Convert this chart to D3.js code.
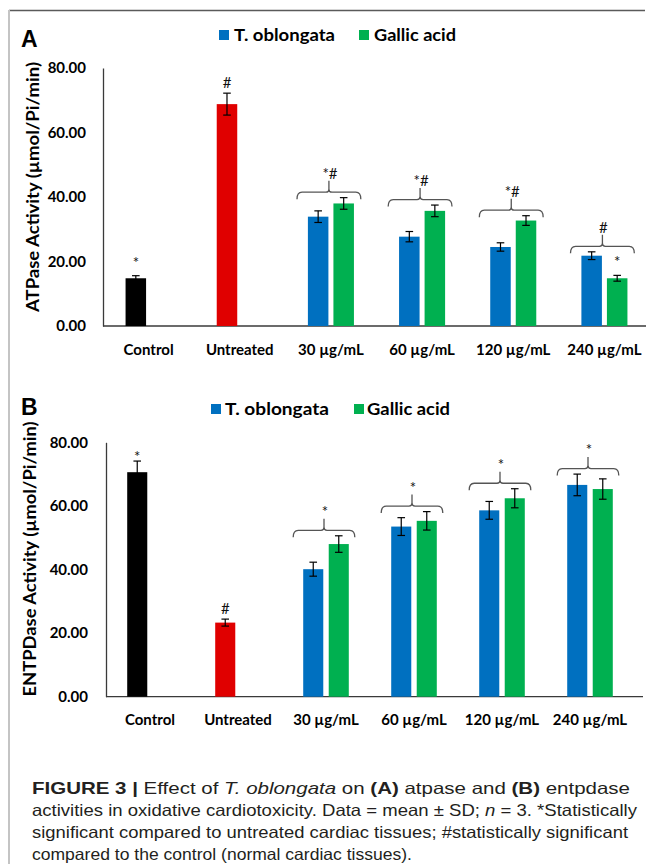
<!DOCTYPE html>
<html><head><meta charset="utf-8">
<script src="https://cdn.jsdelivr.net/npm/d3@7"></script>
<style>
html,body{margin:0;padding:0;background:#fff;}
svg{display:block;}
</style></head>
<body>
<script>
// ---------- DATA ----------
const categories = ["Control", "Untreated", "30 µg/mL", "60 µg/mL", "120 µg/mL", "240 µg/mL"];
const doseCategories = ["30 µg/mL", "60 µg/mL", "120 µg/mL", "240 µg/mL"];
const yTicks = [0, 20, 40, 60, 80];
const legendLabels = ["T. oblongata", "Gallic acid"];

// Panel A: ATPase
const atpaseControl = [14.8], atpaseControlSD = [0.8];
const atpaseUntreated = [68.8], atpaseUntreatedSD = [3.4];
const atpaseTO = [33.9, 27.7, 24.5, 21.8];
const atpaseTOSD = [1.8, 1.6, 1.3, 1.2];
const atpaseGA = [38.0, 35.7, 32.7, 14.8];
const atpaseGASD = [1.8, 1.8, 1.5, 0.9];
const atpaseGroupMarks = ["*#", "*#", "*#", "#"];
const atpaseGAMarks = ["", "", "", "*"];
const atpaseControlMark = "*", atpaseUntreatedMark = "#";

// Panel B: ENTPDase
const entpdaseControl = [70.6], entpdaseControlSD = [3.5];
const entpdaseUntreated = [23.3], entpdaseUntreatedSD = [1.1];
const entpdaseTO = [40.1, 53.5, 58.6, 66.6];
const entpdaseTOSD = [2.2, 2.8, 2.8, 3.4];
const entpdaseGA = [48.0, 55.3, 62.4, 65.3];
const entpdaseGASD = [2.6, 2.9, 3.0, 3.2];
const entpdaseGroupMarks = ["*", "*", "*", "*"];
const entpdaseGAMarks = ["", "", "", ""];
const entpdaseControlMark = "*", entpdaseUntreatedMark = "#";

const COLORS = {control: "#000000", untreated: "#E00000", to: "#0070C0", ga: "#00B050"};
const CHART_FONT = "Lato, 'Open Sans', sans-serif";

// ---------- SVG ----------
const W = 646, H = 864;
const svg = d3.select("body").append("svg").attr("width", W).attr("height", H);

// frame lines
svg.append("line").attr("x1", 9).attr("x2", 645).attr("y1", 10.5).attr("y2", 10.5)
  .attr("stroke", "#5a5a5a").attr("stroke-width", 1.6);
svg.append("line").attr("x1", 9).attr("x2", 9).attr("y1", 10).attr("y2", H)
  .attr("stroke", "#c4c4c4").attr("stroke-width", 2);

function drawPanel(cfg) {
  const g = svg.append("g");
  const x = d3.scaleBand().domain(categories).range([cfg.x0, cfg.x1]).paddingInner(0).paddingOuter(0);
  const y = d3.scaleLinear().domain([0, 80]).range([cfg.yBase, cfg.yTop]);
  const bw = x.bandwidth();
  const slot = bw * cfg.slotFrac, barW = bw * cfg.barFrac;
  const cx = c => x(c) + bw / 2;

  // y axis
  const ya = d3.axisLeft(y).tickValues(yTicks).tickFormat(d3.format(".2f")).tickSize(0).tickPadding(cfg.tickPad);
  const yg = g.append("g").attr("transform", `translate(${cfg.x0},0)`).call(ya);
  yg.select(".domain").attr("stroke", "#3a3a3a").attr("stroke-width", 1.3);
  yg.selectAll("text").attr("font-family", CHART_FONT).attr("font-weight", 700)
    .attr("font-size", 15).attr("fill", "#000");

  // baseline
  g.append("line").attr("x1", cfg.x0).attr("x2", cfg.baseEnd).attr("y1", y(0)).attr("y2", y(0))
    .attr("stroke", "#3a3a3a").attr("stroke-width", 1.3);

  // x labels
  const xa = d3.axisBottom(x).tickSize(0).tickPadding(0);
  const xg = g.append("g").attr("transform", `translate(0,${y(0)})`).call(xa);
  xg.select(".domain").remove();
  xg.selectAll("text").attr("dy", null).attr("y", cfg.xLabelOff).attr("dominant-baseline", "central")
    .attr("font-family", CHART_FONT).attr("font-weight", 700).attr("font-size", 15).attr("fill", "#000");

  // bars data
  const bars = [];
  bars.push({c: categories[0], v: cfg.control[0], sd: cfg.controlSD[0], off: -slot / 2, color: COLORS.control, mark: cfg.controlMark});
  bars.push({c: categories[1], v: cfg.untreated[0], sd: cfg.untreatedSD[0], off: -slot / 2, color: COLORS.untreated, mark: cfg.untreatedMark});
  doseCategories.forEach((c, i) => {
    bars.push({c, v: cfg.to[i], sd: cfg.toSD[i], off: -slot / 2, color: COLORS.to, mark: ""});
    bars.push({c, v: cfg.ga[i], sd: cfg.gaSD[i], off: slot / 2, color: COLORS.ga, mark: cfg.gaMarks[i]});
  });

  g.selectAll("rect.bar").data(bars).join("rect").attr("class", "bar")
    .attr("x", d => cx(d.c) + d.off - barW / 2).attr("width", barW)
    .attr("y", d => y(d.v)).attr("height", d => y(0) - y(d.v)).attr("fill", d => d.color);

  // error bars
  const cap = 3.8;
  const eb = g.selectAll("g.err").data(bars).join("g").attr("class", "err")
    .attr("stroke", "#000").attr("stroke-width", 1.2);
  eb.append("line").attr("x1", d => cx(d.c) + d.off).attr("x2", d => cx(d.c) + d.off)
    .attr("y1", d => y(d.v + d.sd)).attr("y2", d => y(d.v - d.sd));
  eb.append("line").attr("x1", d => cx(d.c) + d.off - cap).attr("x2", d => cx(d.c) + d.off + cap)
    .attr("y1", d => y(d.v + d.sd)).attr("y2", d => y(d.v + d.sd));
  eb.append("line").attr("x1", d => cx(d.c) + d.off - cap).attr("x2", d => cx(d.c) + d.off + cap)
    .attr("y1", d => y(d.v - d.sd)).attr("y2", d => y(d.v - d.sd));

  // single marks
  g.selectAll("text.mark").data(bars.filter(d => d.mark)).join("text").attr("class", "mark")
    .attr("x", d => cx(d.c) + d.off).attr("y", d => y(d.v + d.sd) - (d.mark === "#" ? 5 : cfg.starGap))
    .attr("text-anchor", "middle").attr("font-family", CHART_FONT).attr("font-size", 15)
    .attr("fill", "#111").text(d => d.mark);

  // brackets
  doseCategories.forEach((c, i) => {
    const top = Math.min(y(cfg.to[i] + cfg.toSD[i]), y(cfg.ga[i] + cfg.gaSD[i]));
    const yEnd = top + 1.5, yH = yEnd - 7, yPk = yH - 11.5;
    const xc = cx(c) - 2, hw = bw * 0.35;
    const x0 = xc - hw, x1 = xc + hw, r = 5;
    const p = `M${x0},${yEnd} Q${x0},${yH} ${x0 + r},${yH} L${xc - 3},${yH} Q${xc},${yH} ${xc},${yH - 3} L${xc},${yPk}` +
      ` M${xc},${yH - 3} Q${xc},${yH} ${xc + 3},${yH} L${x1 - r},${yH} Q${x1},${yH} ${x1},${yEnd}`;
    g.append("path").attr("d", p).attr("fill", "none").attr("stroke", "#555").attr("stroke-width", 1.3);
    g.append("text").attr("x", xc + 1).attr("y", yPk - 2).attr("text-anchor", "middle")
      .attr("font-family", CHART_FONT).attr("font-size", 15).attr("fill", "#111").text(cfg.groupMarks[i]);
  });

  // legend
  const lg = g.append("g");
  [[COLORS.to, 0], [COLORS.ga, 1]].forEach(([col, k]) => {
    const L = cfg.legend[k];
    lg.append("rect").attr("x", L.sx).attr("y", cfg.legY - 5).attr("width", 10).attr("height", 10).attr("fill", col);
    lg.append("text").attr("x", L.tx).attr("y", cfg.legY + 6).attr("font-family", CHART_FONT).attr("font-weight", 700)
      .attr("font-size", 17).attr("textLength", L.tw).attr("lengthAdjust", "spacingAndGlyphs")
      .attr("fill", "#000").text(legendLabels[k]);
  });

  // y title
  g.append("text").attr("transform", `translate(${cfg.titleX},${cfg.titleY}) rotate(-90)`)
    .attr("text-anchor", "middle").attr("dominant-baseline", "central")
    .attr("font-family", CHART_FONT).attr("font-weight", 700).attr("font-size", 16.5)
    .attr("textLength", cfg.titleLen).attr("lengthAdjust", "spacingAndGlyphs")
    .attr("fill", "#000").text(cfg.title);

  // panel letter
  g.append("text").attr("x", 21).attr("y", cfg.letterY).attr("font-family", "'Liberation Sans', Arial, sans-serif")
    .attr("font-weight", 700).attr("font-size", 23).attr("fill", "#000").text(cfg.letter);
}

drawPanel({
  letter: "A", letterY: 47,
  x0: 103, x1: 650, baseEnd: 646, yBase: 326, yTop: 68,
  slotFrac: 0.28, barFrac: 0.225, tickPad: 17, xLabelOff: 23, starGap: 8,
  control: atpaseControl, controlSD: atpaseControlSD, controlMark: atpaseControlMark,
  untreated: atpaseUntreated, untreatedSD: atpaseUntreatedSD, untreatedMark: atpaseUntreatedMark,
  to: atpaseTO, toSD: atpaseTOSD, ga: atpaseGA, gaSD: atpaseGASD,
  groupMarks: atpaseGroupMarks, gaMarks: atpaseGAMarks,
  legY: 35, legend: [{sx: 219, tx: 234, tw: 101}, {sx: 359, tx: 374, tw: 82}],
  title: "ATPase Activity (µmol/Pi/min)", titleX: 33, titleY: 187, titleLen: 250
});

drawPanel({
  letter: "B", letterY: 415,
  x0: 106, x1: 634, baseEnd: 643, yBase: 696.7, yTop: 442.3,
  slotFrac: 0.29, barFrac: 0.228, tickPad: 18, xLabelOff: 22.6, starGap: -1,
  control: entpdaseControl, controlSD: entpdaseControlSD, controlMark: entpdaseControlMark,
  untreated: entpdaseUntreated, untreatedSD: entpdaseUntreatedSD, untreatedMark: entpdaseUntreatedMark,
  to: entpdaseTO, toSD: entpdaseTOSD, ga: entpdaseGA, gaSD: entpdaseGASD,
  groupMarks: entpdaseGroupMarks, gaMarks: entpdaseGAMarks,
  legY: 409, legend: [{sx: 211, tx: 225, tw: 104}, {sx: 354, tx: 367, tw: 83}],
  title: "ENTPDase Activity (µmol/Pi/min)", titleX: 30, titleY: 559, titleLen: 275
});

// ---------- CAPTION ----------
const captionLines = [
  [["FIGURE 3 | ", "b"], ["Effect of ", ""], ["T. oblongata", "i"], [" on ", ""], ["(A)", "b"], [" atpase and ", ""], ["(B)", "b"], [" entpdase", ""]],
  [["activities in oxidative cardiotoxicity. Data = mean ± SD; ", ""], ["n", "i"], [" = 3. *Statistically", ""]],
  [["significant compared to untreated cardiac tissues; #statistically significant", ""]],
  [["compared to the control (normal cardiac tissues).", ""]]
];
const captionWidths = [598, 605, 596, 380];
const cap = svg.append("g").attr("font-family", "'Liberation Sans', Arial, sans-serif").attr("font-size", 16.5).attr("fill", "#231f20");
captionLines.forEach((line, i) => {
  const t = cap.append("text").attr("x", 32).attr("y", 794 + i * 21.9)
    .attr("textLength", captionWidths[i]).attr("lengthAdjust", "spacingAndGlyphs");
  line.forEach(([s, st]) => {
    const ts = t.append("tspan").text(s);
    if (st === "b") ts.attr("font-weight", 700);
    if (st === "i") ts.attr("font-style", "italic");
  });
});
</script>
</body></html>
